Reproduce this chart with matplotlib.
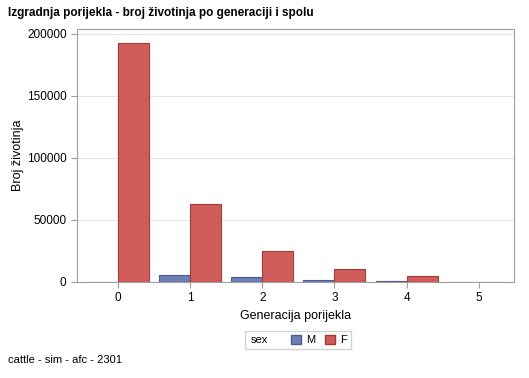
import numpy as np
import matplotlib.pyplot as plt
from matplotlib.patches import Patch

plt.rcParams['font.family'] = ['Liberation Sans', 'DejaVu Sans']

# data
generations = [0, 1, 2, 3, 4, 5]
count_m = [300, 5600, 4000, 1600, 700, 150]
count_f = [193000, 62500, 24800, 10500, 4800, 250]

col_m, edge_m = "#6F7EB3", "#4A5A99"
col_f, edge_f = "#D05B5B", "#A33A33"

fig = plt.figure(figsize=(5.29, 3.78), dpi=100)
ax = fig.add_axes([77 / 529, 1 - 282 / 378, 437 / 529, 253 / 378])

x = np.array(generations)
w = 0.43
ax.bar(x - w / 2, count_m, width=w, color=col_m, edgecolor=edge_m, linewidth=0.8, zorder=3)
ax.bar(x + w / 2, count_f, width=w, color=col_f, edgecolor=edge_f, linewidth=0.8, zorder=3)

ax.set_xlim(-0.57, 5.49)
ax.set_ylim(0, 204000)
ax.set_xticks(generations)
ax.set_yticks([0, 50000, 100000, 150000, 200000])
ax.yaxis.grid(True, color="#E6E6E6", linewidth=0.8, zorder=0)
for s in ax.spines.values():
    s.set_color("#A0A0A0")
ax.tick_params(colors="#A0A0A0", labelcolor="black", labelsize=8.5, length=4)

ax.set_xlabel("Generacija porijekla", fontsize=9, labelpad=4)
ax.set_ylabel("Broj životinja", fontsize=9, labelpad=2)

fig.text(8 / 529, 1 - 13 / 378, "Izgradnja porijekla - broj životinja po generaciji i spolu",
         fontsize=8.5, fontweight="bold", va="center")
fig.text(8 / 529, 1 - 360 / 378, "cattle - sim - afc - 2301", fontsize=8, va="center")

# legend: "sex" label as an invisible first entry
handles = [Patch(facecolor="none", edgecolor="none", label="sex"),
           Patch(facecolor=col_m, edgecolor=edge_m, label="M"),
           Patch(facecolor=col_f, edgecolor=edge_f, label="F")]
leg = fig.legend(handles=handles, loc="center", bbox_to_anchor=(298 / 529, 1 - 340 / 378),
                 ncol=3, fontsize=8, frameon=True, fancybox=False, edgecolor="#C8C8C8",
                 handlelength=0.9, handleheight=0.9, columnspacing=0.8,
                 handletextpad=0.5, borderpad=0.35)
# shift "sex" text left over its empty handle
leg.get_texts()[0].set_position((-14, 0))

fig.savefig("out.png", dpi=100)
